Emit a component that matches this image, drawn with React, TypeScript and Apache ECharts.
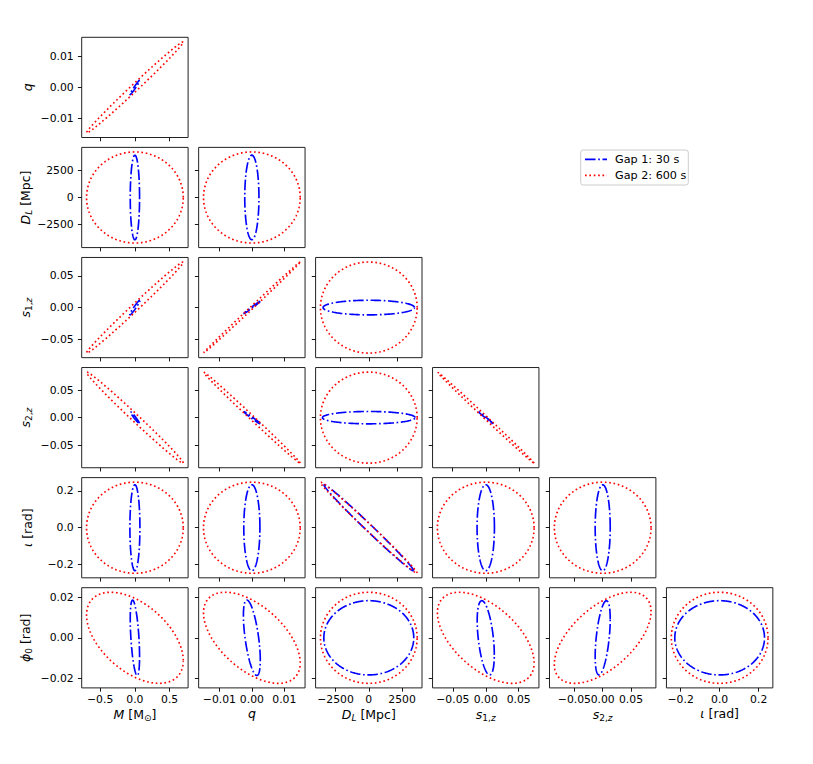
import React, { useEffect, useRef } from "react";
import * as echarts from "echarts";

// ---- parameters (x of column c = PARAM c, y of row r = PARAM r+1)
const PARAM_KEYS = ["M", "q", "DL", "s1z", "s2z", "iota", "phi0"];

const TICKS_M = [-0.5, 0, 0.5];
const TICK_LABELS_M = ["−0.5", "0.0", "0.5"];
const TICKS_Q = [-0.01, 0, 0.01];
const TICK_LABELS_Q = ["−0.01", "0.00", "0.01"];
const TICKS_DL = [-2500, 0, 2500];
const TICK_LABELS_DL = ["−2500", "0", "2500"];
const TICKS_S1Z = [-0.05, 0, 0.05];
const TICK_LABELS_S1Z = ["−0.05", "0.00", "0.05"];
const TICKS_S2Z = [-0.05, 0, 0.05];
const TICK_LABELS_S2Z = ["−0.05", "0.00", "0.05"];
const TICKS_IOTA = [-0.2, 0, 0.2];
const TICK_LABELS_IOTA = ["−0.2", "0.0", "0.2"];
const TICKS_PHI0 = [-0.02, 0, 0.02];
const TICK_LABELS_PHI0 = ["−0.02", "0.00", "0.02"];

const AXIS_NAMES = [
  "{i|M} [M{sub|⊙}]",
  "{i|q}",
  "{i|D}{subi|L} [Mpc]",
  "{i|s}{sub|1,}{subi|z}",
  "{i|s}{sub|2,}{subi|z}",
  "{i|ι} [rad]",
  "{i|ϕ}{sub|0} [rad]",
];

const LEGEND_LABELS = ["Gap 1: 30 s", "Gap 2: 600 s"];

// ---- panels, row-major over the lower triangle
const PANEL_ROW = [0, 1, 1, 2, 2, 2, 3, 3, 3, 3, 4, 4, 4, 4, 4, 5, 5, 5, 5, 5, 5];
const PANEL_COL = [0, 0, 1, 0, 1, 2, 0, 1, 2, 3, 0, 1, 2, 3, 4, 0, 1, 2, 3, 4, 5];

// Gap 2 (600 s) ellipse: half-extent along x, along y, correlation
const GAP2_X_EXT = [0.696, 0.696, 0.015, 0.696, 0.015, 4250, 0.696, 0.015, 4250, 0.0724, 0.696, 0.015, 4250, 0.0724, 0.0855, 0.696, 0.0149, 3636, 0.0735, 0.0855, 0.248];
const GAP2_Y_EXT = [0.0148, 4250, 4250, 0.0717, 0.0717, 0.0717, 0.0826, 0.0826, 0.0826, 0.0826, 0.2477, 0.2477, 0.2477, 0.2477, 0.2477, 0.02245, 0.02245, 0.02245, 0.02245, 0.02245, 0.02245];
const GAP2_RHO = [0.9946, 0, 0, 0.9946, 0.9992, 0, -0.994, -0.998, 0, -0.999, 0, 0, -0.995, 0, 0, -0.5, -0.55, 0, -0.55, 0.58, 0];

// Gap 1 (30 s) ellipse
const GAP1_X_EXT = [0.072, 0.067, 0.0022, 0.075, 0.0026, 4020, 0.065, 0.0026, 4080, 0.0112, 0.072, 0.0025, 3950, 0.013, 0.0133, 0.067, 0.0026, 3380, 0.013, 0.0133, 0.23];
const GAP1_Y_EXT = [0.0024, 3950, 3950, 0.0118, 0.0099, 0.0115, 0.0106, 0.0113, 0.0112, 0.0112, 0.234, 0.234, 0.235, 0.234, 0.234, 0.0186, 0.0186, 0.0183, 0.0183, 0.0183, 0.0183];
const GAP1_RHO = [0.98, 0, 0, 0.97, 0.995, 0, -0.97, -0.99, 0, -0.995, 0, 0, -0.994, 0, 0, -0.5, -0.59, 0, -0.46, 0.5, 0];

const TICKS = [TICKS_M, TICKS_Q, TICKS_DL, TICKS_S1Z, TICKS_S2Z, TICKS_IOTA, TICKS_PHI0];
const TICK_LABELS = [TICK_LABELS_M, TICK_LABELS_Q, TICK_LABELS_DL, TICK_LABELS_S1Z, TICK_LABELS_S2Z, TICK_LABELS_IOTA, TICK_LABELS_PHI0];

// ---- layout (pixels)
const GRID_LEFT0 = 81.7;
const COL_STEP = 116.95;
const GRID_W = 106.4;
const GRID_TOP0 = 37.3;
const ROW_STEP = 110.08;
const GRID_H = 100.2;
const FONT = "DejaVu Sans";
const BLUE = "#0000ff";
const RED = "#ff0000";
const LW = 1.65;
const DASHDOT = [6.4 * LW, 1.6 * LW, 1.0 * LW, 1.6 * LW];
const DOTTED = [1 * LW, 1.65 * LW];
const TICK_FS = 10.8;
const NAME_FS = 12.5;

function ellipsePoints(a: number, b: number, rho: number, n = 360) {
  const s = Math.sqrt(Math.max(0, 1 - rho * rho));
  const pts: number[][] = [];
  for (let k = 0; k <= n; k++) {
    const t = (2 * Math.PI * k) / n;
    pts.push([a * Math.cos(t), b * (rho * Math.cos(t) + s * Math.sin(t))]);
  }
  return pts;
}

const RICH = {
  i: { fontFamily: FONT, fontStyle: "italic", fontSize: NAME_FS, color: "#000" },
  sub: { fontFamily: FONT, fontSize: 9, color: "#000", padding: [7, 0, 0, 0] },
  subi: { fontFamily: FONT, fontStyle: "italic", fontSize: 9, color: "#000", padding: [7, 0, 0, 0] },
};

function fmt(p: number) {
  return (v: number) => {
    const idx = TICKS[p].findIndex((t) => Math.abs(t - v) < 1e-9 * Math.max(1, Math.abs(t)));
    return idx >= 0 ? TICK_LABELS[p][idx] : "";
  };
}

const labelStyle = (show: boolean, values: number[], p: number, margin: number) => ({
  show,
  customValues: values,
  formatter: fmt(p),
  fontFamily: FONT,
  fontSize: TICK_FS,
  color: "#000",
  margin,
  hideOverlap: false,
  showMinLabel: true,
  showMaxLabel: true,
});

export default function App() {
  const ref = useRef<HTMLDivElement>(null);
  useEffect(() => {
    if (!ref.current) return;
    const chart = echarts.init(ref.current, undefined, { renderer: "svg" });
    const grids: any[] = [];
    const xAxes: any[] = [];
    const yAxes: any[] = [];
    const series: any[] = [];
    const nRows = 6;
    PANEL_ROW.forEach((r, i) => {
      const c = PANEL_COL[i];
      const px = c;
      const py = r + 1;
      grids.push({
        left: GRID_LEFT0 + c * COL_STEP,
        top: GRID_TOP0 + r * ROW_STEP,
        width: GRID_W,
        height: GRID_H,
        show: true,
        borderColor: "#222",
        borderWidth: 1,
        backgroundColor: "transparent",
        containLabel: false,
      });
      const xLim = 1.1 * Math.max(GAP2_X_EXT[i], GAP1_X_EXT[i]);
      const yLim = 1.1 * Math.max(GAP2_Y_EXT[i], GAP1_Y_EXT[i]);
      const isBottom = r === nRows - 1;
      const isLeft = c === 0;
      const xTicks = TICKS[px];
      const xIndex = xAxes.length;
      xAxes.push({
        type: "value",
        gridIndex: i,
        position: "bottom",
        min: -xLim,
        max: xLim,
        axisLine: { show: false, onZero: false },
        splitLine: { show: false },
        axisTick: { show: true, inside: false, length: 3.8, lineStyle: { color: "#000", width: 0.9 }, customValues: xTicks },
        axisLabel: labelStyle(isBottom, [xTicks[0], xTicks[2]], px, 6),
        name: isBottom ? AXIS_NAMES[px] : "",
        nameLocation: "middle",
        nameGap: 19,
        nameTextStyle: { fontFamily: FONT, fontSize: NAME_FS, color: "#000", rich: RICH },
      });
      if (isBottom) {
        // second, label-only axis on the same grid so that touching labels are all kept
        xAxes.push({
          type: "value",
          gridIndex: i,
          position: "bottom",
          offset: 0,
          min: -xLim,
          max: xLim,
          axisLine: { show: false, onZero: false },
          splitLine: { show: false },
          axisTick: { show: false },
          axisLabel: labelStyle(true, [xTicks[1]], px, 6),
        });
      }
      yAxes.push({
        type: "value",
        gridIndex: i,
        position: "left",
        min: -yLim,
        max: yLim,
        axisLine: { show: false, onZero: false },
        splitLine: { show: false },
        axisTick: { show: true, inside: false, length: 3.8, lineStyle: { color: "#000", width: 0.9 }, customValues: TICKS[py] },
        axisLabel: labelStyle(isLeft, TICKS[py], py, 8),
        name: isLeft ? AXIS_NAMES[py] : "",
        nameLocation: "middle",
        nameRotate: 90,
        nameGap: 48,
        nameTextStyle: { fontFamily: FONT, fontSize: NAME_FS, color: "#000", rich: RICH },
      });
      series.push({
        type: "line",
        xAxisIndex: xIndex,
        yAxisIndex: i,
        name: LEGEND_LABELS[0],
        data: ellipsePoints(GAP1_X_EXT[i], GAP1_Y_EXT[i], GAP1_RHO[i]),
        showSymbol: false,
        symbol: "none",
        silent: true,
        lineStyle: { color: BLUE, width: LW, type: DASHDOT, cap: "butt" },
        z: 2,
      });
      series.push({
        type: "line",
        xAxisIndex: xIndex,
        yAxisIndex: i,
        name: LEGEND_LABELS[1],
        data: ellipsePoints(GAP2_X_EXT[i], GAP2_Y_EXT[i], GAP2_RHO[i]),
        showSymbol: false,
        symbol: "none",
        silent: true,
        lineStyle: { color: RED, width: LW, type: DOTTED, cap: "butt" },
        z: 3,
      });
    });

    const legend = {
      type: "group",
      children: [
        {
          type: "rect",
          shape: { x: 580.7, y: 150, width: 107.6, height: 35, r: 2.5 },
          style: { fill: "#fff", stroke: "#cccccc", lineWidth: 1 },
        },
        {
          type: "line",
          shape: { x1: 585, y1: 159.3, x2: 607, y2: 159.3 },
          style: { stroke: BLUE, lineWidth: LW, lineDash: DASHDOT },
        },
        {
          type: "text",
          x: 615,
          y: 159.5,
          style: { text: LEGEND_LABELS[0], fontFamily: FONT, fontSize: 11.2, fill: "#000", verticalAlign: "middle", align: "left" },
        },
        {
          type: "line",
          shape: { x1: 585, y1: 175.3, x2: 607, y2: 175.3 },
          style: { stroke: RED, lineWidth: LW, lineDash: DOTTED },
        },
        {
          type: "text",
          x: 615,
          y: 175.5,
          style: { text: LEGEND_LABELS[1], fontFamily: FONT, fontSize: 11.2, fill: "#000", verticalAlign: "middle", align: "left" },
        },
      ],
    };

    chart.setOption({
      animation: false,
      backgroundColor: "#fff",
      textStyle: { fontFamily: FONT },
      grid: grids,
      xAxis: xAxes,
      yAxis: yAxes,
      series,
      graphic: [legend],
    });
    return () => chart.dispose();
  }, []);
  return (
    <div
      ref={ref}
      style={{ position: "fixed", left: 0, top: 0, width: 813, height: 764 }}
    />
  );
}
